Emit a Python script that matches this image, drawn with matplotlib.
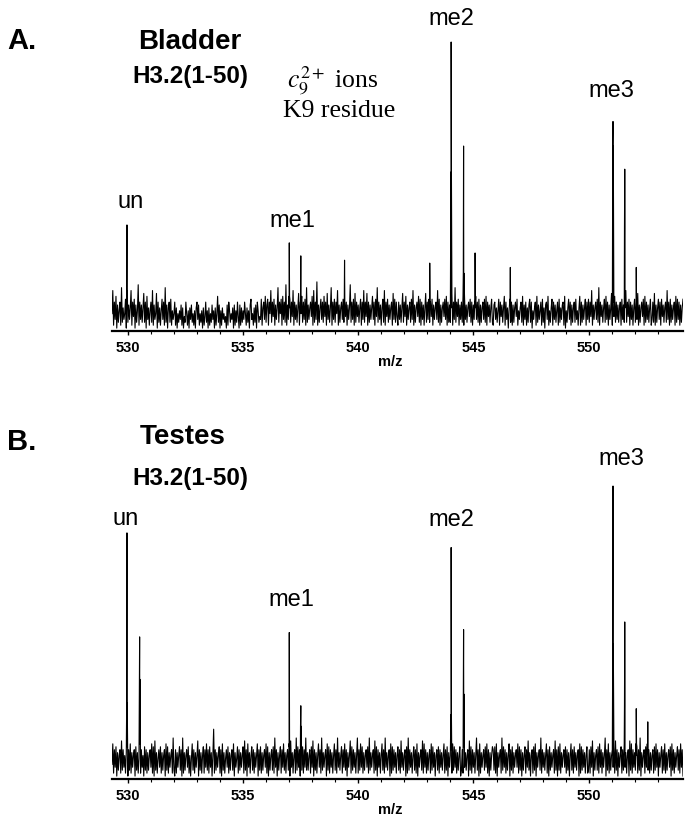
import numpy as np
import matplotlib.pyplot as plt

plt.rcParams['font.family'] = ['Liberation Sans', 'DejaVu Sans']
plt.rcParams['mathtext.fontset'] = 'stix'

### -------------------------------------------------------------------
## m/z range and ticks
mz_lo, mz_hi = 529.3, 554.1
major_ticks = [530, 535, 540, 545, 550]

## baseline noise, one char per point (base 36 -> % intensity)
noise_a = (
    "6e2a4c1937a2f3846b1a3948e2a5b1937g2a4938"
    "d3a1c4827a3e2946d1a3827b4a2f3918a3b2746a"
    "2816374928153a6271849362718a4926371825a3"
    "7182639471826c3917284635192a7364819273a5"
    "1928374a6283719b4628391a7354b28a4c39b2a6"
    "e3a5b2948f3a6b2c4a3g2948b3a5e2a4938d2a6c"
    "3a4b2f3948a5c2e3a4h2938b4a3c5a2d4938f2a4"
    "b3a6e2938a4b3c5a2948g3a4b2d3a5938b2a4e3a"
    "5d2a3948c4a2b5f3a4928b3e2a5b3948a2d4b3a5"
    "2a4938d3a5c2948a3b4e2938a5c3b2a4928d3a4b"
    "3a5b2948a4e3b2938a5b4c2a3938d2a4f3a5b294"
    "a3c2b4938a5b3a2948c4a3b2938a4b3c2a5938b3"
    "29a4837b2a5938c2a4817b3a2938a5b2748a3c29"
    "4a2839b3a1748a2c3947a2b3819a4c2738b2a493"
    "7a2b3849a2c1738b4a2938a3b4728c2a3948b2a4"
    "b3a5e2948a4b3f2a5938b3c4a2948d2a5c3a4938"
    "a2b4938e3a5b2a4928b3a4d2938a5b2c3a4938b2"
    "4a3d2938b4a2b5938a3e4a2b3948a2c3b4a2938b"
)
noise_b = (
    "5c2a4b1938a2d3a4829b1a3c2948a1b3927c2a48"
    "1b3a2938a4c2b1d3927a4b2938a1c3b2948a2e31"
    "a2948b3a1e2938a4b2817c3a2948d1a3928b2a4c"
    "3a2b4918h2a3948b2a1c3927a4b2938a3c1947b2"
    "a3948b2d3a1c4928b3a2948c1a3b2938a4c2b193"
    "8a3b2e4a1938b2a4c3928a3b1d4928a2e3b4a193"
    "b2a4e3938a2b4d1a3928c4a2e3948a1c3b2a4928"
    "c3a2e4938b2a4c3a1948d2b3a4928e2a3c4b2938"
    "a4b2e3948a2d3b1a4928c3a2e4938a1c2b3a4928"
    "b3a2d4938a1b2e3a4928b3a2c1948a3d2c4a2938"
    "a2c3b4918a3b2a4938c2a3b1948a2c3b4a2938b1"
    "3a2b4938a1d3b2a4928e3a1c2948a3b4c2a1938b"
    "a3b2c1948a2e3b4a2938c1a3b2948a4c2b3a1938"
    "b2a4d3918a2b3c1948a3e2a4938c2a1b3948a2d3"
    "a1b3c2948a4b2a3918c3a2b4938a1c2b3a4928b2"
    "3a2b4d1938a3b2c4a2948e1a3c2938a4b2d3a194"
    "8b2a3c4928a1d3c2a4938b2a3e1948a2b4c3a293"
    "8a2b3c4a1948b2a3c2938a4b1c3a2948b3a2c4a1"
)

## peaks (m/z, % intensity, level of the close side line)
peaks_a_mz  = [529.95, 537.0, 537.5, 539.4, 543.1, 544.03, 544.57, 545.07, 546.6, 551.06, 551.57, 552.07]
peaks_a_int = [36.7, 30.5, 26, 24.5, 23.5, 100, 64, 27, 22, 72.5, 56, 22]
peaks_a_sh  = [14, 12, 10, 10, 9, 55, 20, 10, 9, 64, 36, 9]

peaks_b_mz  = [529.95, 530.5, 537.0, 537.5, 544.03, 544.57, 551.06, 551.57, 552.07, 552.57]
peaks_b_int = [84, 48.5, 50, 25, 79, 51, 100, 53.6, 24, 19.5]
peaks_b_sh  = [26, 34, 12, 18, 22, 29, 46, 25, 12, 9]


def trace(noise, mz, inten, sh):
    v = [int(c, 36) for c in noise]
    xs = list(np.linspace(mz_lo, mz_hi, len(v)))
    ys = list(v)
    for m, h, s in zip(mz, inten, sh):
        xs += [m - 0.012, m, m + 0.012]
        ys += [s, h, s]
    order = np.argsort(xs)
    return np.array(xs)[order], np.array(ys)[order]


W, H = 692, 826
fig = plt.figure(figsize=(W / 100, H / 100), dpi=100)


def fx(px):
    return px / W


def fy(py):
    return 1 - py / H


def panel(bottom_px, top_px, scale, x, y):
    ax = fig.add_axes([fx(112), 1 - bottom_px / H, 571 / W, (bottom_px - top_px) / H])
    ax.plot(x, y, color='black', lw=0.8)
    ax.set_xlim(mz_lo, mz_hi)
    ax.set_ylim(0, (bottom_px - top_px) / scale)
    for s in ['left', 'top', 'right']:
        ax.spines[s].set_visible(False)
    ax.spines['bottom'].set_linewidth(1.6)
    ax.set_yticks([])
    ax.set_xticks(major_ticks)
    ax.set_xticks(np.arange(530, 554, 1), minor=True)
    ax.tick_params(axis='x', which='major', direction='out', length=3, width=1,
                   labelsize=10.5, pad=4)
    ax.tick_params(axis='x', which='minor', direction='out', length=2, width=0.8)
    for lb in ax.get_xticklabels():
        lb.set_fontweight('bold')
    ax.text(0.487, -(31 / (bottom_px - top_px)), 'm/z', transform=ax.transAxes,
            ha='center', va='center', fontsize=10.5, fontweight='bold')
    return ax


xa, ya = trace(noise_a, peaks_a_mz, peaks_a_int, peaks_a_sh)
xb, yb = trace(noise_b, peaks_b_mz, peaks_b_int, peaks_b_sh)

panel(331, 28, 2.89, xa, ya)
panel(779, 470, 2.93, xb, yb)

## titles
fig.text(fx(7), fy(41), 'A.', fontsize=21, fontweight='bold', ha='left', va='center')
fig.text(fx(190), fy(42), 'Bladder', fontsize=20, fontweight='bold', ha='center', va='center')
fig.text(fx(190), fy(77), 'H3.2(1-50)', fontsize=17.5, fontweight='bold', ha='center', va='center')
fig.text(fx(287), fy(87), r'$c_9^{2+}$ ions', fontsize=18.5, family='Liberation Serif',
         ha='left', va='baseline')
fig.text(fx(283), fy(117), 'K9 residue', fontsize=18.5, family='Liberation Serif',
         ha='left', va='baseline')

fig.text(fx(7), fy(442), 'B.', fontsize=21, fontweight='bold', ha='left', va='center')
fig.text(fx(183), fy(437), 'Testes', fontsize=20, fontweight='bold', ha='center', va='center')
fig.text(fx(190), fy(478), 'H3.2(1-50)', fontsize=17.5, fontweight='bold', ha='center', va='center')

## peak labels
labels_a = [('un', 131, 208), ('me1', 292, 227), ('me2', 451, 25), ('me3', 611, 97)]
labels_b = [('un', 126, 525), ('me1', 291, 606), ('me2', 451, 526), ('me3', 621, 465)]
for t, px, py in labels_a + labels_b:
    fig.text(fx(px), fy(py), t, fontsize=17, ha='center', va='baseline')

fig.savefig('out.png', dpi=100)
